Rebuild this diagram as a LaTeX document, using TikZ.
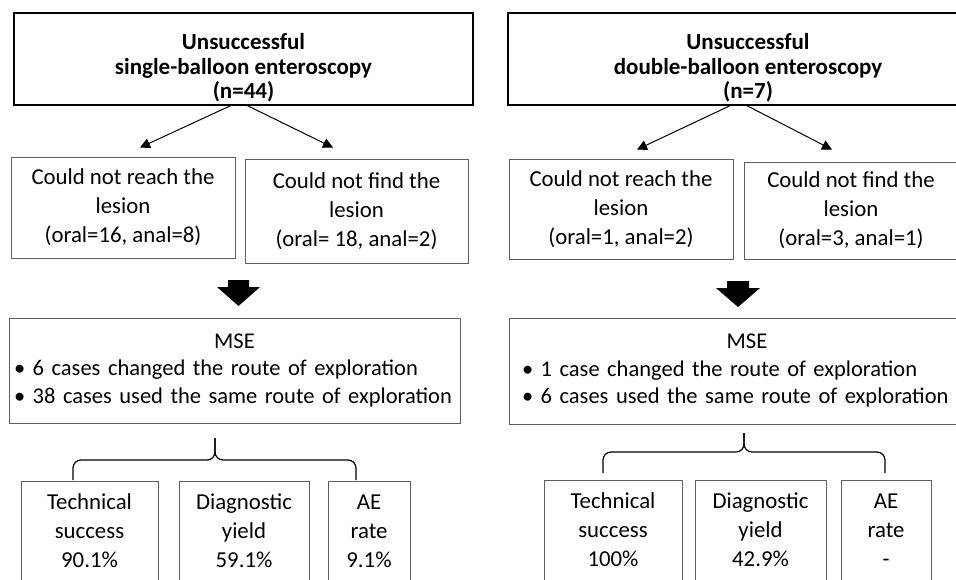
\documentclass[tikz,border=0pt]{standalone}
\usepackage{fontspec}
\setmainfont{Carlito}
\usetikzlibrary{arrows.meta,positioning,calc}
\definecolor{BoxGray}{RGB}{95,95,95}

\tikzset{
  headbox/.style={draw=black, line width=1.4pt, align=center, inner sep=0pt,
    font=\fontsize{23}{24.5}\selectfont\bfseries},
  casebox/.style={draw=BoxGray, line width=0.9pt, align=center, inner sep=0pt,
    font=\fontsize{22.8}{29}\selectfont},
  msebox/.style={draw=BoxGray, line width=0.9pt, align=left, inner ysep=0pt,
    font=\fontsize{22.5}{27.5}\selectfont},
  pointer/.style={line width=1pt, -{Triangle[length=10pt,width=10pt]}},
  bracket/.style={line width=1.2pt, rounded corners=8pt}
}

\begin{document}
\begin{tikzpicture}[x=1pt, y=-1pt]
  \useasboundingbox (0,0) rectangle (956,579);
  \clip (0,0) rectangle (956,579);

  % Head boxes
  \node[headbox, minimum width=459, minimum height=92] (sbe) at (243.5,59)
    {\rule{0pt}{34pt}Unsuccessful\\single-balloon enteroscopy\\(n=44)};
  \node[headbox, minimum width=480, minimum height=92] (dbe) at (748,59)
    {\rule{0pt}{34pt}Unsuccessful\\double-balloon enteroscopy\\(n=7)};

  % Failure reasons
  \node[casebox, minimum width=224, minimum height=101] (sreach) at (123,207.5)
    {Could not reach the\\lesion\\(oral=16, anal=8)};
  \node[casebox, minimum width=223, minimum height=104] (sfind) at (356.5,211)
    {Could not find the\\lesion\\(oral= 18, anal=2)};
  \node[casebox, minimum width=224, minimum height=100] (dreach) at (621,209)
    {Could not reach the\\lesion\\(oral=1, anal=2)};
  \node[casebox, minimum width=214, minimum height=97] (dfind) at (851,210.5)
    {Could not find the\\lesion\\(oral=3, anal=1)};

  \draw[pointer] ([xshift=-13pt]sbe.south) -- ([xshift=17pt,yshift=9pt]sreach.north);
  \draw[pointer] ([xshift=4pt]sbe.south) -- ([xshift=-23.5pt,yshift=11pt]sfind.north);
  \draw[pointer] ([xshift=-18pt]dbe.south) -- ([xshift=16pt,yshift=9pt]dreach.north);
  \draw[pointer] ([xshift=-1pt]dbe.south) -- ([xshift=-19pt,yshift=12pt]dfind.north);

  % Block arrows
  \fill (228,280) -- (249,280) -- (249,287) -- (260,287) -- (238.5,306)
    -- (217,287) -- (228,287) -- cycle;
  \fill (727,281) -- (749,281) -- (749,288) -- (760,288) -- (738,307)
    -- (716,288) -- (727,288) -- cycle;

  % MSE boxes
  \node[msebox, text width=441, inner xsep=5pt, minimum height=105] (smse) at (234.5,370.5)
    {\hspace*{\fill}MSE\hspace*{\fill}\par
     \textbullet\ 6 cases changed the route of exploration\hspace*{\fill}\par
     \textbullet\ 38 cases used the same route of exploration\hspace*{\fill}\par\vspace{12pt}};
  \node[msebox, text width=450, inner xsep=13pt, minimum height=106] (dmse) at (747,371)
    {\hspace*{\fill}MSE\hspace*{\fill}\par
     \textbullet\ 1 case changed the route of exploration\hspace*{\fill}\par
     \textbullet\ 6 cases used the same route of exploration\hspace*{\fill}\par\vspace{12pt}};

  % Brackets
  \coordinate (sbl) at (73,480);
  \coordinate (sbr) at (356,480);
  \coordinate (sbt) at (215,438);
  \draw[bracket] (sbl) |- (sbt |- 0,460) -- (sbt);
  \draw[bracket] (sbr) |- (sbt |- 0,460) -- (sbt);
  \coordinate (dbl) at (603,473);
  \coordinate (dbr) at (885,473);
  \coordinate (dbt) at (744,433);
  \draw[bracket] (dbl) |- (dbt |- 0,452) -- (dbt);
  \draw[bracket] (dbr) |- (dbt |- 0,452) -- (dbt);

  % Outcomes
  \node[casebox, minimum width=137, minimum height=100] (stech) at (89.5,531)
    {Technical\\success\\90.1\%};
  \node[casebox, minimum width=130, minimum height=100] (sdiag) at (244,531)
    {Diagnostic\\yield\\59.1\%};
  \node[casebox, minimum width=82, minimum height=100] (sae) at (369,531)
    {AE\\rate\\9.1\%};
  \node[casebox, minimum width=138, minimum height=100] (dtech) at (613,530)
    {Technical\\success\\100\%};
  \node[casebox, minimum width=131, minimum height=100] (ddiag) at (760.5,530)
    {Diagnostic\\yield\\42.9\%};
  \node[casebox, minimum width=90, minimum height=100] (dae) at (886,530)
    {AE\\rate\\-};
\end{tikzpicture}
\end{document}
